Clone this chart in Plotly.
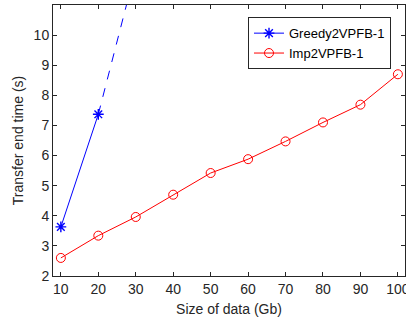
import plotly.graph_objects as go

greedy_x = [10, 20]
greedy_y = [3.63, 7.37]
greedy_dash_x = [20, 30]
greedy_dash_y = [7.37, 12.2]
imp_x = [10, 20, 30, 40, 50, 60, 70, 80, 90, 100]
imp_y = [2.60, 3.34, 3.96, 4.70, 5.42, 5.88, 6.47, 7.10, 7.69, 8.70]
x_ticks = [10, 20, 30, 40, 50, 60, 70, 80, 90, 100]
y_ticks = [2, 3, 4, 5, 6, 7, 8, 9, 10]

fig = go.Figure()
fig.add_trace(go.Scatter(x=greedy_dash_x, y=greedy_dash_y, mode="lines",
                         line=dict(color="#0000ff", width=1, dash="dash"),
                         showlegend=False, hoverinfo="skip"))
fig.add_trace(go.Scatter(x=greedy_x, y=greedy_y, mode="lines+markers", name="Greedy2VPFB-1",
                         line=dict(color="#0000ff", width=1),
                         marker=dict(symbol="asterisk-open", size=9,
                                     line=dict(color="#0000ff", width=1.4))))
fig.add_trace(go.Scatter(x=imp_x, y=imp_y, mode="lines+markers", name="Imp2VPFB-1",
                         line=dict(color="#ff0000", width=1),
                         marker=dict(symbol="circle-open", size=9,
                                     line=dict(color="#ff0000", width=1))))

axis_common = dict(showgrid=False, zeroline=False, showline=True, linecolor="#262626",
                   linewidth=1, mirror="ticks", ticks="inside", ticklen=4,
                   tickcolor="#262626", tickfont=dict(size=14, color="#262626"),
                   ticklabeloverflow="allow", automargin=False)
fig.update_xaxes(range=[7.9, 101.9], tickvals=x_ticks,
                 title=dict(text="Size of data (Gb)", font=dict(size=14, color="#262626"), standoff=8),
                 **axis_common)
fig.update_yaxes(range=[2, 11], tickvals=y_ticks,
                 title=dict(text="Transfer end time (s)", font=dict(size=14, color="#262626"), standoff=6),
                 **axis_common)
fig.update_layout(width=406, height=322, margin=dict(l=53, r=1, t=5, b=46),
                  plot_bgcolor="white", paper_bgcolor="white",
                  font=dict(family="Liberation Sans, Arial, sans-serif", color="#262626"),
                  legend=dict(x=0.554, y=0.955, xanchor="left", yanchor="top",
                              bordercolor="#262626", borderwidth=1, bgcolor="white",
                              font=dict(size=13, color="#000000"),
                              tracegroupgap=0, itemwidth=30))
fig.write_html("out.html", config={"displayModeBar": False},
               post_script="document.body.style.margin='0';")
